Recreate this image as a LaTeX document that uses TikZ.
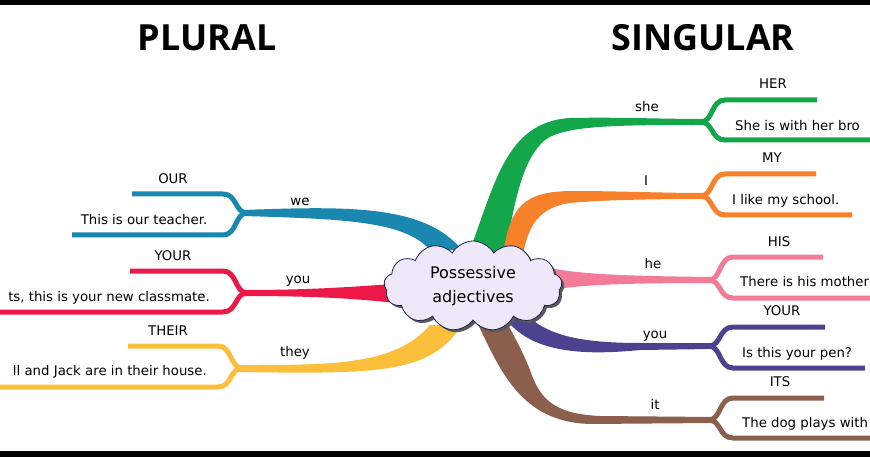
\documentclass[tikz,border=0pt]{standalone}
\usepackage{fontspec}
\setmainfont{DejaVu Sans}
\newfontfamily\titlefont{Open Sans}
\usetikzlibrary{shapes.symbols,shadows}
\definecolor{cblue}{HTML}{1A87B0}
\definecolor{cred}{HTML}{EC1848}
\definecolor{cyellow}{HTML}{FBBF3B}
\definecolor{cgreen}{HTML}{14A64A}
\definecolor{corange}{HTML}{F7812A}
\definecolor{cpink}{HTML}{F27C97}
\definecolor{cpurple}{HTML}{4B4390}
\definecolor{cbrown}{HTML}{8B5E4E}
\definecolor{ccloud}{HTML}{EEE8F8}
\definecolor{cnavy}{HTML}{1F1F50}
\newcommand\LLeaf[5]{\draw[leaf,#1] (#2,#3) -- ({#4-20},#3) .. controls ({#4-6},#3) and ({#4-8},#5) .. ({#4+4},#5);}
\newcommand\RLeaf[5]{\draw[leaf,#1] ({#4-4},#5) .. controls ({#4+8},#5) and ({#4+6},#3) .. ({#4+20},#3) -- (#2,#3);}
\begin{document}
\begin{tikzpicture}[x=1pt,y=-1pt,
  leaf/.style={line width=5pt,line cap=butt},
  lbl/.style={font=\fontsize{13.3}{16}\selectfont, inner sep=0pt, text height=10pt, text depth=3pt},
  title/.style={font=\titlefont\fontsize{36}{40}\selectfont\bfseries, inner sep=0pt}]
\path[use as bounding box] (0,0) rectangle (870,457);
\clip (0,0) rectangle (870,457);
\fill[white] (0,0) rectangle (870,457);
\fill[black] (0,0) rectangle (870,5);
\fill[black] (0,451) rectangle (870,457);

% fork coordinates
\coordinate (fB) at (243,213);
\coordinate (fR) at (243,293);
\coordinate (fY) at (238,368);
\coordinate (fG) at (705,122);
\coordinate (fO) at (705,196);
\coordinate (fP) at (713,280);
\coordinate (fU) at (713,346);
\coordinate (fW) at (713,420);

% trunks
\fill[cblue] (243,210) .. controls (350,206) and (425,205) .. (462,250) -- (430,250) .. controls (405,222) and (350,219) .. (243,216) -- cycle;
\fill[cred] (243,290) .. controls (320,290) and (360,286) .. (395,284) -- (395,303) .. controls (360,299) and (320,296) .. (243,296) -- cycle;
\fill[cyellow] (238,365) .. controls (330,365) and (395,366) .. (430,325) -- (462,325) .. controls (430,374) and (380,374) .. (238,372) -- cycle;
\fill[cgreen] (468,255) .. controls (495,185) and (505,122) .. (570,118) .. controls (620,117) and (660,119) .. (705,119) -- (705,125) .. controls (620,125) and (565,125) .. (545,140) .. controls (522,160) and (515,200) .. (505,255) -- cycle;
\fill[corange] (503,255) .. controls (510,205) and (525,192) .. (570,191) .. controls (620,191) and (660,193) .. (705,193) -- (705,199) .. controls (650,199) and (600,200) .. (570,203) .. controls (540,207) and (528,225) .. (523,255) -- cycle;
\fill[cpink] (550,268) .. controls (580,274) and (620,276) .. (713,277) -- (713,283) .. controls (620,283) and (580,285) .. (550,290) -- cycle;
\fill[cpurple] (530,318) .. controls (550,335) and (580,343) .. (640,343) -- (713,343) -- (713,349) -- (640,350) .. controls (580,356) and (530,352) .. (505,318) -- cycle;
\fill[cbrown] (475,318) .. controls (500,370) and (520,422) .. (590,424) -- (713,423) -- (713,417) -- (600,416) .. controls (555,414) and (540,400) .. (530,370) .. controls (520,345) and (510,330) .. (505,318) -- cycle;

% leaves
\LLeaf{cblue}{132}{194}{243}{213}
\LLeaf{cblue}{72}{235}{243}{213}
\LLeaf{cred}{130}{271}{243}{293}
\LLeaf{cred}{-5}{312}{243}{293}
\LLeaf{cyellow}{128}{346}{238}{368}
\LLeaf{cyellow}{-5}{387}{238}{368}
\RLeaf{cgreen}{817}{100}{705}{122}
\RLeaf{cgreen}{875}{140}{705}{122}
\RLeaf{corange}{816}{174}{705}{196}
\RLeaf{corange}{852}{215}{705}{196}
\RLeaf{cpink}{823}{257}{713}{280}
\RLeaf{cpink}{875}{298}{713}{280}
\RLeaf{cpurple}{825}{327}{713}{346}
\RLeaf{cpurple}{865}{368}{713}{346}
\RLeaf{cbrown}{824}{398}{713}{420}
\RLeaf{cbrown}{875}{438}{713}{420}

% cloud
\node[cloud, draw=cnavy, fill=ccloud, line width=0.8pt, cloud puffs=13, cloud puff arc=120, aspect=2.0,
  minimum width=178pt, minimum height=90pt, inner sep=0pt, align=center,
  font=\fontsize{16}{24}\selectfont,
  drop shadow={shadow xshift=2.5pt, shadow yshift=-2.5pt, fill=black!65, opacity=1}] (cl) at (473,286) {Possessive\\adjectives};

% titles
\node[title] (tP) at (207,38) {PLURAL};
\node[title] (tS) at (703,38) {SINGULAR};

% left labels
\node[lbl] (our) at (173,180) {OUR};
\node[lbl] (ourS) at (144,221) {This is our teacher.};
\node[lbl] (we) at (300,202) {we};
\node[lbl] (yourL) at (173,257) {YOUR};
\node[lbl,anchor=east] (yourS) at (210,298) {ts, this is your new classmate.};
\node[lbl] (youL) at (298,280) {you};
\node[lbl] (their) at (168,332) {THEIR};
\node[lbl,anchor=east] (theirS) at (207,372) {ll and Jack are in their house.};
\node[lbl] (they) at (295,353) {they};

% right labels
\node[lbl] (she) at (647,108) {she};
\node[lbl] (her) at (773,85) {HER};
\node[lbl,anchor=west] (herS) at (735,127) {She is with her bro};
\node[lbl] (I) at (646,182) {I};
\node[lbl] (my) at (772,159) {MY};
\node[lbl,anchor=west] (myS) at (732,201) {I like my school.};
\node[lbl] (he) at (653,265) {he};
\node[lbl] (his) at (779,243) {HIS};
\node[lbl,anchor=west] (hisS) at (740,283) {There is his mother};
\node[lbl] (youR) at (655,335) {you};
\node[lbl] (yourR) at (782,312) {YOUR};
\node[lbl,anchor=west] (yourRS) at (742,354) {Is this your pen?};
\node[lbl] (it) at (655,406) {it};
\node[lbl] (its) at (780,383) {ITS};
\node[lbl,anchor=west] (itsS) at (742,424) {The dog plays with};
\end{tikzpicture}
\end{document}
